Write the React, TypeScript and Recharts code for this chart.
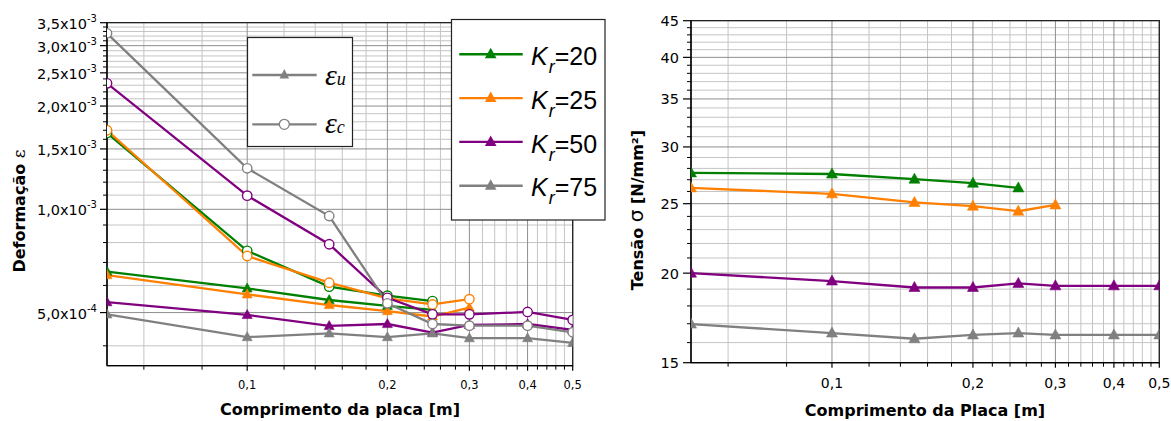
import React from 'react';
import { LineChart, Line, XAxis, YAxis, CartesianGrid, ReferenceArea } from 'recharts';

// ---------- data ----------
const lengths = [0.05, 0.1, 0.15, 0.2, 0.25, 0.3, 0.4, 0.5];

// deformation (left panel) - triangles = eps_u, circles = eps_c
const epsU_Kr20 = [6.58e-4, 5.88e-4, 5.44e-4, 5.23e-4, 5.09e-4, null, null, null];
const epsC_Kr20 = [1.67e-3, 7.57e-4, 5.95e-4, 5.6e-4, 5.4e-4, null, null, null];
const epsU_Kr25 = [6.43e-4, 5.65e-4, 5.26e-4, 5.05e-4, 4.87e-4, 5.17e-4, null, null];
const epsC_Kr25 = [1.7e-3, 7.31e-4, 6.11e-4, 5.5e-4, 5.28e-4, 5.47e-4, null, null];
const epsU_Kr50 = [5.36e-4, 4.92e-4, 4.57e-4, 4.63e-4, 4.37e-4, 4.6e-4, 4.63e-4, 4.45e-4];
const epsC_Kr50 = [2.33e-3, 1.096e-3, 7.91e-4, 5.52e-4, 4.94e-4, 4.94e-4, 5.02e-4, 4.76e-4];
const epsU_Kr75 = [4.94e-4, 4.24e-4, 4.35e-4, 4.24e-4, 4.35e-4, 4.21e-4, 4.21e-4, 4.08e-4];
const epsC_Kr75 = [3.26e-3, 1.317e-3, 9.56e-4, 5.32e-4, 4.63e-4, 4.58e-4, 4.58e-4, 4.38e-4];

// stress (right panel)
const sigma_Kr20 = [27.6, 27.5, 27.05, 26.7, 26.3, null, null, null];
const sigma_Kr25 = [26.3, 25.8, 25.1, 24.8, 24.4, 24.9, null, null];
const sigma_Kr50 = [20.0, 19.5, 19.1, 19.1, 19.35, 19.2, 19.2, 19.2];
const sigma_Kr75 = [16.98, 16.5, 16.2, 16.4, 16.5, 16.4, 16.4, 16.4];

// ticks
const xMajorValues = [0.1, 0.2, 0.3, 0.4, 0.5];
const xMajorLabels = ['0,1', '0,2', '0,3', '0,4', '0,5'];
const xMinorValues: number[] = [];
for (let i = 3; i <= 24; i++) {
  const v = Number((i * 0.02).toFixed(2));
  if (!xMajorValues.some((m) => Math.abs(m - v) < 1e-9)) xMinorValues.push(v);
}

const leftYMajorValues = [5e-4, 1e-3, 1.5e-3, 2e-3, 2.5e-3, 3e-3, 3.5e-3];
const leftYMantissa = ['5,0', '1,0', '1,5', '2,0', '2,5', '3,0', '3,5'];
const leftYExponent = ['-4', '-3', '-3', '-3', '-3', '-3', '-3'];
const leftYMinorValues: number[] = [];
for (let i = 4; i <= 34; i++) {
  const v = Number((i * 1e-4).toPrecision(6));
  if (!leftYMajorValues.some((m) => Math.abs(m - v) / m < 1e-6)) leftYMinorValues.push(v);
}

const rightYMajorValues = [15, 20, 25, 30, 35, 40, 45];
const rightYLabels = ['15', '20', '25', '30', '35', '40', '45'];
const rightYMinorValues: number[] = [];
for (let i = 16; i <= 44; i++) if (i % 5 !== 0) rightYMinorValues.push(i);

const krLabels = ['20', '25', '50', '75'];

// ---------- styles ----------
const GREEN = '#008000';
const ORANGE = '#FF8000';
const PURPLE = '#800080';
const GRAY = '#808080';
const krColors = [GREEN, ORANGE, PURPLE, GRAY];
const AXIS_FONT = 'DejaVu Sans, Verdana, sans-serif';
const LEG_FONT = 'Liberation Sans, Arial, sans-serif';
const LW = 2.3;

const leftData = lengths.map((x, i) => ({
  x,
  u20: epsU_Kr20[i], c20: epsC_Kr20[i],
  u25: epsU_Kr25[i], c25: epsC_Kr25[i],
  u50: epsU_Kr50[i], c50: epsC_Kr50[i],
  u75: epsU_Kr75[i], c75: epsC_Kr75[i],
}));

const rightData = lengths.map((x, i) => ({
  x,
  s20: sigma_Kr20[i], s25: sigma_Kr25[i], s50: sigma_Kr50[i], s75: sigma_Kr75[i],
}));

const near = (a: number, b: number) => Math.abs(a - b) <= Math.abs(b) * 1e-6;

const triDot = (color: string, w: number, h: number) => (props: any) => {
  const { cx, cy, index } = props;
  if (cx == null || cy == null || isNaN(cy)) return <g key={`t${index}`} />;
  const pts = `${cx},${cy - h * 0.6} ${cx - w / 2},${cy + h * 0.4} ${cx + w / 2},${cy + h * 0.4}`;
  return <polygon key={`t${index}`} points={pts} fill={color} stroke={color} strokeWidth={0.6} />;
};

const circDot = (color: string) => (props: any) => {
  const { cx, cy, index } = props;
  if (cx == null || cy == null || isNaN(cy)) return <g key={`c${index}`} />;
  return <circle key={`c${index}`} cx={cx} cy={cy} r={4.7} fill="#fff" stroke={color} strokeWidth={1.4} />;
};

const makeXTick = (fontSize: number, offset: number) => (props: any) => {
  const { x, y, payload } = props;
  const idx = xMajorValues.findIndex((m) => near(payload.value, m));
  if (idx < 0) return <line x1={x} x2={x} y1={y} y2={y + 4} stroke="#000" strokeWidth={1} />;
  return (
    <g>
      <line x1={x} x2={x} y1={y} y2={y + 5} stroke="#000" strokeWidth={1.2} />
      <text x={x} y={y + offset} textAnchor="middle" fontFamily={AXIS_FONT} fontSize={fontSize} fill="#000">
        {xMajorLabels[idx]}
      </text>
    </g>
  );
};

const leftYTick = (props: any) => {
  const { x, y, payload } = props;
  const idx = leftYMajorValues.findIndex((m) => near(payload.value, m));
  if (idx < 0) return <line x1={x - 4} x2={x} y1={y} y2={y} stroke="#000" strokeWidth={1} />;
  return (
    <g>
      <line x1={x - 7} x2={x} y1={y} y2={y} stroke="#000" strokeWidth={1.2} />
      <text x={x - 10} y={y + 6} textAnchor="end" fontFamily={AXIS_FONT} fontSize={14.5} fill="#000">
        {leftYMantissa[idx]}x10
        <tspan dy={-7} fontSize={10}>{leftYExponent[idx]}</tspan>
      </text>
    </g>
  );
};

const rightYTick = (props: any) => {
  const { x, y, payload } = props;
  const idx = rightYMajorValues.findIndex((m) => near(payload.value, m));
  if (idx < 0) return <line x1={x - 4} x2={x} y1={y} y2={y} stroke="#000" strokeWidth={1} />;
  return (
    <g>
      <line x1={x - 8} x2={x} y1={y} y2={y} stroke="#000" strokeWidth={1.2} />
      <text x={x - 12} y={y + 5.5} textAnchor="end" fontFamily={AXIS_FONT} fontSize={14.5} fill="#000">
        {rightYLabels[idx]}
      </text>
    </g>
  );
};

const xAllTicks = [...xMinorValues, ...xMajorValues].sort((a, b) => a - b);

export default function App() {
  return (
    <div style={{ position: 'absolute', left: 0, top: 0, width: 1171, height: 421, background: '#fff', overflow: 'hidden' }}>
      {/* Left panel */}
      <div style={{ position: 'absolute', left: 0, top: 0 }}>
        <LineChart width={610} height={421} data={leftData} margin={{ top: 22.7, right: 37.3, bottom: 0, left: 0 }}>
          <CartesianGrid horizontalValues={leftYMinorValues} verticalValues={xMinorValues} stroke="#c4c4c4" strokeWidth={1} />
          <CartesianGrid horizontalValues={leftYMajorValues} verticalValues={xMajorValues} stroke="#8e8e8e" strokeWidth={1} />
          <XAxis dataKey="x" type="number" scale="log" domain={[0.05, 0.5]} allowDataOverflow ticks={xAllTicks} interval={0}
            tickSize={0} tickMargin={0} tickLine={false} tick={makeXTick(11.5, 22.8)} axisLine={{ stroke: '#000', strokeWidth: 1.3 }} height={55.3} />
          <YAxis type="number" scale="log" domain={[3.5e-4, 3.5e-3]} allowDataOverflow
            ticks={[...leftYMinorValues, ...leftYMajorValues].sort((a, b) => a - b)} interval={0}
            tickSize={0} tickMargin={0} tickLine={false} tick={leftYTick} axisLine={{ stroke: '#000', strokeWidth: 1.3 }} width={107} />
          <ReferenceArea x1={0.05} x2={0.5} y1={3.5e-4} y2={3.5e-3} fill="none" fillOpacity={0} stroke="#222" strokeWidth={1.3} ifOverflow="visible" />
          <Line dataKey="u20" stroke={GREEN} strokeWidth={LW} dot={triDot(GREEN, 10, 9)} activeDot={false} isAnimationActive={false} />
          <Line dataKey="c20" stroke={GREEN} strokeWidth={LW} dot={circDot(GREEN)} activeDot={false} isAnimationActive={false} />
          <Line dataKey="u25" stroke={ORANGE} strokeWidth={LW} dot={triDot(ORANGE, 10, 9)} activeDot={false} isAnimationActive={false} />
          <Line dataKey="c25" stroke={ORANGE} strokeWidth={LW} dot={circDot(ORANGE)} activeDot={false} isAnimationActive={false} />
          <Line dataKey="u50" stroke={PURPLE} strokeWidth={LW} dot={triDot(PURPLE, 10, 9)} activeDot={false} isAnimationActive={false} />
          <Line dataKey="c50" stroke={PURPLE} strokeWidth={LW} dot={circDot(PURPLE)} activeDot={false} isAnimationActive={false} />
          <Line dataKey="u75" stroke={GRAY} strokeWidth={LW} dot={triDot(GRAY, 10, 9)} activeDot={false} isAnimationActive={false} />
          <Line dataKey="c75" stroke={GRAY} strokeWidth={LW} dot={circDot(GRAY)} activeDot={false} isAnimationActive={false} />
        </LineChart>
      </div>

      {/* Right panel */}
      <div style={{ position: 'absolute', left: 610, top: 0 }}>
        <LineChart width={561} height={421} data={rightData} margin={{ top: 20.7, right: 11.7, bottom: 0, left: 0 }}>
          <CartesianGrid horizontalValues={rightYMinorValues} verticalValues={xMinorValues} stroke="#c4c4c4" strokeWidth={1} />
          <CartesianGrid horizontalValues={rightYMajorValues} verticalValues={xMajorValues} stroke="#8e8e8e" strokeWidth={1} />
          <XAxis dataKey="x" type="number" scale="log" domain={[0.05, 0.5]} allowDataOverflow ticks={xAllTicks} interval={0}
            tickSize={0} tickMargin={0} tickLine={false} tick={makeXTick(14, 25.3)} axisLine={{ stroke: '#000', strokeWidth: 1.3 }} height={58.3} />
          <YAxis type="number" scale="log" domain={[15, 45]} allowDataOverflow
            ticks={[...rightYMinorValues, ...rightYMajorValues].sort((a, b) => a - b)} interval={0}
            tickSize={0} tickMargin={0} tickLine={false} tick={rightYTick} axisLine={{ stroke: '#000', strokeWidth: 1.3 }} width={81} />
          <ReferenceArea x1={0.05} x2={0.5} y1={15} y2={45} fill="none" fillOpacity={0} stroke="#222" strokeWidth={1.3} ifOverflow="visible" />
          <Line dataKey="s20" stroke={GREEN} strokeWidth={LW} dot={triDot(GREEN, 11, 10)} activeDot={false} isAnimationActive={false} />
          <Line dataKey="s25" stroke={ORANGE} strokeWidth={LW} dot={triDot(ORANGE, 11, 10)} activeDot={false} isAnimationActive={false} />
          <Line dataKey="s50" stroke={PURPLE} strokeWidth={LW} dot={triDot(PURPLE, 11, 10)} activeDot={false} isAnimationActive={false} />
          <Line dataKey="s75" stroke={GRAY} strokeWidth={LW} dot={triDot(GRAY, 11, 10)} activeDot={false} isAnimationActive={false} />
        </LineChart>
      </div>

      {/* Legends and axis titles */}
      <svg width={1171} height={421} style={{ position: 'absolute', left: 0, top: 0, pointerEvents: 'none' }}>
        {/* epsilon legend */}
        <rect x={247.5} y={37.5} width={105} height={109} fill="#fff" stroke="#222" strokeWidth={1.2} />
        <line x1={252.3} x2={316.7} y1={75} y2={75} stroke={GRAY} strokeWidth={2.3} />
        <polygon points={`284.3,69 279.5,78.5 289.1,78.5`} fill={GRAY} />
        <text x={325} y={85} fontFamily="Liberation Serif, serif" fontStyle="italic" fill="#000">
          <tspan fontSize={30}>ε</tspan><tspan fontSize={18}>u</tspan>
        </text>
        <line x1={252.3} x2={316.7} y1={124.3} y2={124.3} stroke={GRAY} strokeWidth={2.3} />
        <circle cx={284.3} cy={124.3} r={5} fill="#fff" stroke={GRAY} strokeWidth={1.3} />
        <text x={325} y={133.3} fontFamily="Liberation Serif, serif" fontStyle="italic" fill="#000">
          <tspan fontSize={30}>ε</tspan><tspan fontSize={18}>c</tspan>
        </text>

        {/* Kr legend */}
        <rect x={451.5} y={19.5} width={153.5} height={200.5} fill="#fff" stroke="#222" strokeWidth={1.2} />
        {krLabels.map((lab, i) => {
          const ly = 54.3 + i * 43.8;
          const c = krColors[i];
          return (
            <g key={lab}>
              <line x1={459.3} x2={522.7} y1={ly} y2={ly} stroke={c} strokeWidth={2.4} />
              <polygon points={`490.7,${ly - 6.5} 484.9,${ly + 4} 496.5,${ly + 4}`} fill={c} />
              <text x={531} y={ly + 10.7} fontFamily={LEG_FONT} fill="#000">
                <tspan fontSize={25} fontStyle="italic">K</tspan>
                <tspan fontSize={18} fontStyle="italic" dx={1} dy={8}>r</tspan>
                <tspan fontSize={25} dy={-8}>={lab}</tspan>
              </text>
            </g>
          );
        })}

        {/* Axis titles */}
        <text transform="translate(25,211) rotate(-90)" textAnchor="middle" fontFamily={AXIS_FONT} fontSize={16} fontWeight="bold" fill="#000">
          Deformação <tspan fontWeight="normal" fontFamily="DejaVu Serif, serif" fontSize={17}>ε</tspan>
        </text>
        <text x={340} y={415} textAnchor="middle" fontFamily={AXIS_FONT} fontSize={16} fontWeight="bold" fill="#000">
          Comprimento da placa [m]
        </text>
        <text transform="translate(643,210) rotate(-90)" textAnchor="middle" fontFamily={AXIS_FONT} fontSize={16} fontWeight="bold" fill="#000">
          Tensão <tspan fontWeight="normal" fontSize={20}>σ</tspan> [N/mm²]
        </text>
        <text x={925} y={416} textAnchor="middle" fontFamily={AXIS_FONT} fontSize={16} fontWeight="bold" fill="#000">
          Comprimento da Placa [m]
        </text>
      </svg>
    </div>
  );
}
